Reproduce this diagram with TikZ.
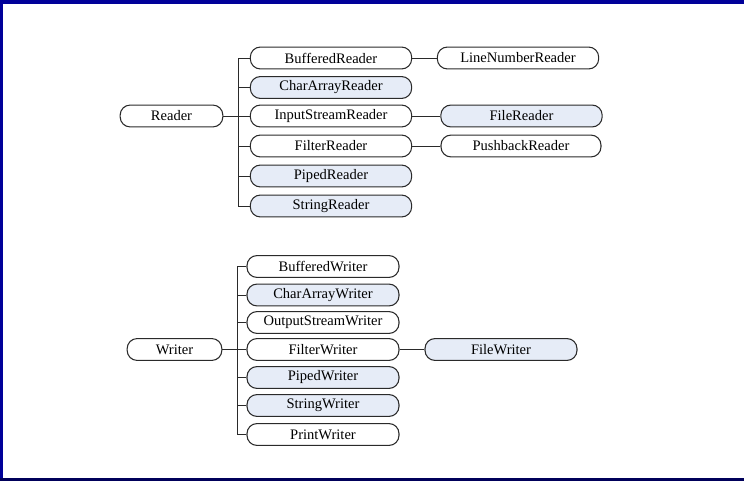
\documentclass[tikz,border=0pt]{standalone}
\usepackage{fontspec}
\setmainfont{Liberation Serif}
\definecolor{boxblue}{HTML}{E6ECF7}
\definecolor{framenavy}{HTML}{000099}
\definecolor{framedark}{HTML}{00005A}
\definecolor{edgegray}{HTML}{2A2A2A}
\begin{document}
\begin{tikzpicture}[x=0.75pt,y=-0.75pt,
  cls/.style={draw=edgegray, line width=0.8pt, rounded corners=7.5pt, minimum height=16.4pt, inner sep=0pt, font=\fontsize{10.9}{12}\selectfont},
  subcls/.style={cls, fill=boxblue},
  link/.style={draw=edgegray, line width=0.7pt}]
\useasboundingbox (0,0) rectangle (744,481);
% frame
\fill[framenavy] (0,0) rectangle (744,4);
\fill[framenavy] (0,0) rectangle (3,481);
\fill[framedark] (0,478) rectangle (744,481);
% Reader tree
\node[cls, minimum width=77pt] (reader) at (171.5,116) {Reader};
\node[cls, minimum width=121pt] (rbuf) at (331,58) {BufferedReader};
\node[subcls, minimum width=121pt] (rchar) at (331,87.5) {CharArrayReader};
\node[cls, minimum width=121pt] (risr) at (331,116) {InputStreamReader};
\node[cls, minimum width=121pt] (rfilt) at (331,146) {FilterReader};
\node[subcls, minimum width=121pt] (rpipe) at (331,176) {PipedReader};
\node[subcls, minimum width=121pt] (rstr) at (331,206) {StringReader};
\node[cls, minimum width=121pt] (rline) at (518,58) {LineNumberReader};
\node[subcls, minimum width=121pt] (rfile) at (521.5,116) {FileReader};
\node[cls, minimum width=120pt] (rpush) at (521,146) {PushbackReader};
\coordinate (rtrunk) at (238,116);
\draw[link] (reader.east) -- (rtrunk);
\foreach \n in {rbuf,rchar,risr,rfilt,rpipe,rstr}
  \draw[link] (\n.west) -| (rtrunk);
\draw[link] (rbuf.east) -- (rline.west);
\draw[link] (risr.east) -- (rfile.west);
\draw[link] (rfilt.east) -- (rpush.west);
% Writer tree
\node[cls, minimum width=71pt] (writer) at (174.5,349.5) {Writer};
\node[cls, minimum width=114pt] (wbuf) at (323,266.5) {BufferedWriter};
\node[subcls, minimum width=114pt] (wchar) at (323,295) {CharArrayWriter};
\node[cls, minimum width=114pt] (wosw) at (323,322.5) {OutputStreamWriter};
\node[cls, minimum width=114pt] (wfilt) at (323,349.5) {FilterWriter};
\node[subcls, minimum width=114pt] (wpipe) at (323,377.5) {PipedWriter};
\node[subcls, minimum width=114pt] (wstr) at (323,405.5) {StringWriter};
\node[cls, minimum width=114pt] (wprint) at (323,434.5) {PrintWriter};
\node[subcls, minimum width=114pt] (wfile) at (501,349.5) {FileWriter};
\coordinate (wtrunk) at (237,349.5);
\draw[link] (writer.east) -- (wtrunk);
\foreach \n in {wbuf,wchar,wosw,wfilt,wpipe,wstr,wprint}
  \draw[link] (\n.west) -| (wtrunk);
\draw[link] (wfilt.east) -- (wfile.west);
\end{tikzpicture}
\end{document}
